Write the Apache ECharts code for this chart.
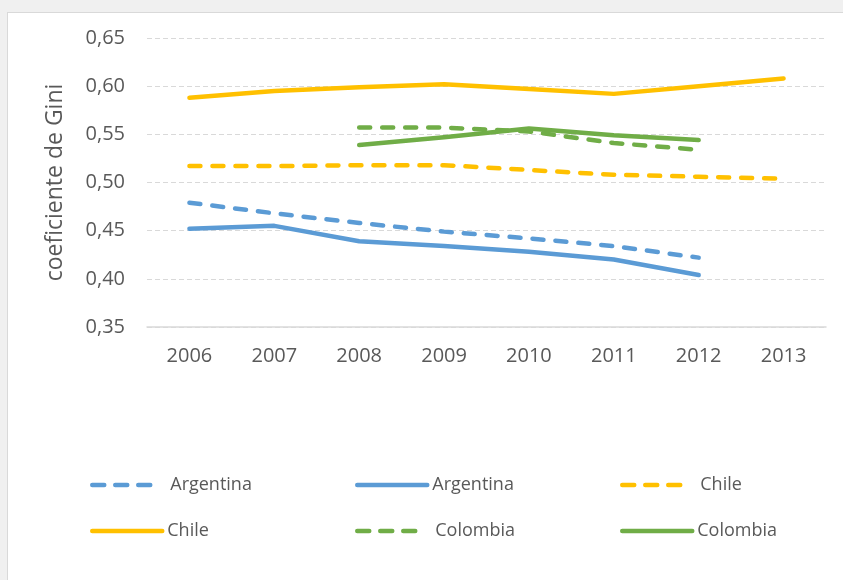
<!DOCTYPE html>
<html>
<head>
<meta charset="utf-8">
<script src="https://cdn.jsdelivr.net/npm/echarts@6/dist/echarts.min.js"></script>
<style>
html,body{margin:0;padding:0;background:#f0f0f0;}
#frame{position:absolute;left:7px;top:12px;right:0;bottom:0;background:#fff;border-left:1px solid #d9d9d9;border-top:1px solid #d9d9d9;}
#chart{position:absolute;left:0;top:0;width:843px;height:580px;}
</style>
</head>
<body>
<div id="frame"></div>
<div id="chart"></div>
<script>
const years = ['2006','2007','2008','2009','2010','2011','2012','2013'];
const argentinaDashed = [0.479, 0.468, 0.458, 0.449, 0.442, 0.434, 0.422, null];
const argentinaSolid  = [0.452, 0.455, 0.439, 0.434, 0.428, 0.420, 0.404, null];
const chileDashed     = [0.517, 0.517, 0.518, 0.518, 0.513, 0.508, 0.506, 0.504];
const chileSolid      = [0.588, 0.595, 0.599, 0.602, 0.597, 0.592, 0.600, 0.608];
const colombiaDashed  = [null, null, 0.557, 0.557, 0.553, 0.541, 0.534, null];
const colombiaSolid   = [null, null, 0.539, 0.547, 0.556, 0.549, 0.544, null];
const yTicks = { min: 0.35, max: 0.65, interval: 0.05 };
const yAxisTitle = 'coeficiente de Gini';
const seriesNames = ['Argentina', 'Argentina', 'Chile', 'Chile', 'Colombia', 'Colombia'];

const ids = ['arg_d','arg_s','chi_d','chi_s','col_d','col_s'];
const datas = [argentinaDashed, argentinaSolid, chileDashed, chileSolid, colombiaDashed, colombiaSolid];
const colors = ['#5B9BD5','#5B9BD5','#FFC000','#FFC000','#70AD47','#70AD47'];
const dashed = [true,false,true,false,true,false];
const DASH = [11, 12];
const LEGEND_DASH = [12, 11];
const LW = 4.5;

const series = ids.map((id, i) => ({
  type: 'line',
  name: id,
  data: datas[i],
  symbol: 'none',
  showSymbol: false,
  connectNulls: false,
  lineStyle: { color: colors[i], width: LW, type: dashed[i] ? DASH : 'solid', cap: 'round', join: 'round' },
  itemStyle: { color: colors[i] },
  z: 3
}));

const legendPos = [
  [85, 471], [350, 471], [615, 471],
  [85, 517], [350, 517], [615, 517]
];
const legends = ids.map((id, i) => ({
  data: [id],
  left: legendPos[i][0],
  top: legendPos[i][1],
  orient: 'horizontal',
  itemWidth: dashed[i] ? 58 : 70,
  itemHeight: 14,
  itemGap: 0,
  selectedMode: false,
  formatter: () => seriesNames[i],
  textStyle: { color: '#595959', fontSize: 18, fontFamily: 'Open Sans', padding: [0, 0, 0, dashed[i] ? 15 : 0] },
  itemStyle: { color: 'transparent', borderWidth: 0, opacity: 0 },
  lineStyle: { width: LW, type: dashed[i] ? LEGEND_DASH : 'solid', cap: 'round', color: colors[i], opacity: 1 }
}));

const chart = echarts.init(document.getElementById('chart'), null, { renderer: 'canvas' });
chart.setOption({
  animation: false,
  backgroundColor: 'transparent',
  textStyle: { fontFamily: 'Open Sans' },
  grid: { left: 147, right: 17, top: 38, bottom: 253, containLabel: false },
  legend: legends,
  xAxis: {
    type: 'category',
    data: years,
    boundaryGap: true,
    axisLine: { show: true, lineStyle: { color: '#d9d9d9', width: 1.5 } },
    axisTick: { show: false },
    axisLabel: { color: '#595959', fontSize: 20, fontFamily: 'Open Sans', margin: 19 },
    splitLine: { show: false }
  },
  yAxis: {
    type: 'value',
    min: yTicks.min,
    max: yTicks.max,
    interval: yTicks.interval,
    name: yAxisTitle,
    nameLocation: 'middle',
    nameGap: 80,
    nameRotate: 90,
    nameTextStyle: { color: '#595959', fontSize: 23, fontFamily: 'Open Sans' },
    axisLine: { show: false },
    axisTick: { show: false },
    axisLabel: {
      color: '#595959', fontSize: 20, fontFamily: 'Open Sans', margin: 22,
      formatter: v => v.toFixed(2).replace('.', ',')
    },
    splitLine: { show: true, lineStyle: { color: '#d9d9d9', width: 1, type: [5, 3] } }
  },
  series: series
});
</script>
</body>
</html>
